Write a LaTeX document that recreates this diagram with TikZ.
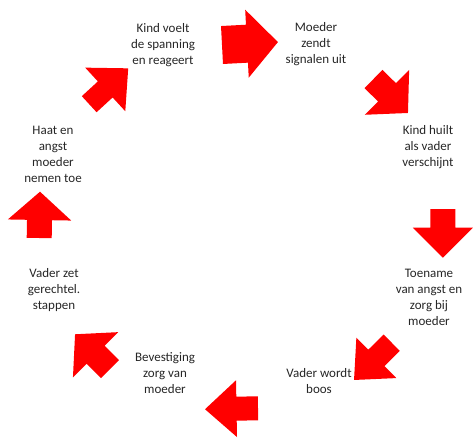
\documentclass[tikz,border=0pt]{standalone}
\usepackage{fontspec}
\setmainfont{Carlito}
\begin{document}
\begin{tikzpicture}[
    x=1pt, y=-1pt,
    every node/.style={align=center, font=\fontsize{13}{16}\selectfont, text=black!85},
    pijl/.style={fill=red, draw=none},
    pics/blockarrow/.style n args={4}{code={
        \fill[pijl] (0,-#3) -- (#1,-#3) -- (#1,-#4) -- (#2,0) -- (#1,#4) -- (#1,#3) -- (0,#3) -- cycle;
    }}
]
    \useasboundingbox (0,0) rectangle (474,439);

    % Draw nodes
    \node (voelt) at (163,45) {Kind voelt\\de spanning\\en reageert};
    \node (zendt) at (316,44) {Moeder\\zendt\\signalen uit};
    \node (huilt) at (428,147) {Kind huilt\\als vader\\verschijnt};
    \node (toename) at (429,297) {Toename\\van angst en\\zorg bij\\moeder};
    \node (boos) at (319,381) {Vader wordt\\boos};
    \node (bevestiging) at (165,373) {Bevestiging\\zorg van\\moeder};
    \node (stappen) at (54,290) {Vader zet\\gerechtel.\\stappen};
    \node (haat) at (53,154) {Haat en\\angst\\moeder\\nemen toe};

    % Draw arrows
    \pic[rotate=3] at (222,45) {blockarrow={25}{56}{19}{34}};
    \pic[rotate=-44.6] at (373.5,79) {blockarrow={19}{48.4}{12.8}{31.5}};
    \pic[rotate=-90] at (442.9,209.2) {blockarrow={18.5}{48.5}{12.5}{30}};
    \pic[rotate=-135.3] at (391.7,342.7) {blockarrow={21.6}{53}{11.5}{28.4}};
    \pic[rotate=181] at (258,408.3) {blockarrow={21.5}{53}{12}{28.4}};
    \pic[rotate=135] at (110,369.2) {blockarrow={20.4}{49.4}{12.7}{32}};
    \pic[rotate=89] at (39.2,238) {blockarrow={18}{46.3}{12.5}{31.7}};
    \pic[rotate=42.6] at (89.2,104.2) {blockarrow={21.8}{53}{10.9}{29.6}};

\end{tikzpicture}
\end{document}
